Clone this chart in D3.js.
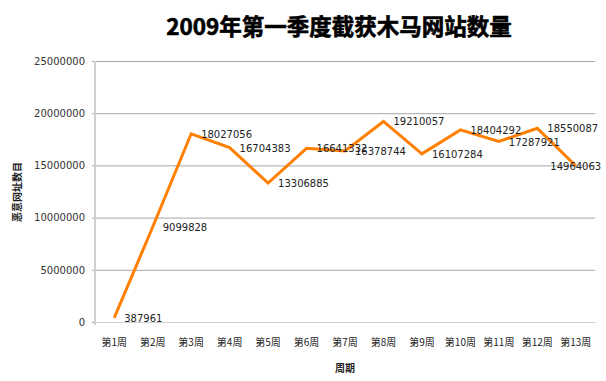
<!DOCTYPE html>
<html><head><meta charset="utf-8">
<script src="https://cdn.jsdelivr.net/npm/d3@7"></script>
<style>body{margin:0;background:#fff}</style>
</head><body>
<svg id="c" width="606" height="381"></svg>
<script>
const categories = ["第1周","第2周","第3周","第4周","第5周","第6周","第7周","第8周","第9周","第10周","第11周","第12周","第13周"];
const values = [387961,9099828,18027056,16704383,13306885,16641332,16378744,19210057,16107284,18404292,17287921,18550087,14964063];
const yTicks = [0,5000000,10000000,15000000,20000000,25000000];
const title = "2009年第一季度截获木马网站数量";
const xTitle = "周期";
const yTitle = "恶意网址数目";

const svg = d3.select("#c");
const L = 95, R = 595, T = 61, B = 322;
const x = d3.scaleBand().domain(categories).range([L, R]);
const y = d3.scaleLinear().domain([0, 25000000]).range([B, T]);
const font = "DejaVu Sans, Verdana, sans-serif";
const cjk = "'Noto Sans CJK SC', sans-serif";

// gridlines + y axis
const ya = svg.append("g").attr("transform", `translate(${L},0)`)
  .call(d3.axisLeft(y).tickValues(yTicks).tickSize(-(R - L)).tickPadding(10).tickFormat(d3.format("d")));
ya.select(".domain").remove();
ya.selectAll(".tick line").attr("stroke", "#a6a6a6").attr("x1", -3);
ya.selectAll(".tick text").attr("font-family", font).attr("font-size", 10).attr("fill", "#333");

svg.append("line").attr("x1", L).attr("x2", L).attr("y1", T).attr("y2", B + 3)
  .attr("stroke", "#d0d0d0").attr("stroke-width", 2);

const xa = svg.append("g").attr("transform", `translate(0,${B})`)
  .call(d3.axisBottom(x).tickSize(0).tickPadding(17));
xa.select(".domain").attr("stroke", "#d0d0d0").attr("stroke-width", 1);
xa.selectAll(".tick text").attr("font-family", cjk).attr("font-size", 10).attr("fill", "#222");

const cx = d => x(d) + x.bandwidth() / 2;
const line = d3.line().x((d, i) => cx(categories[i])).y(d => y(d));
svg.append("path").datum(values).attr("d", line).attr("fill", "none")
  .attr("stroke", "#ff8000").attr("stroke-width", 3).attr("stroke-linejoin", "miter");

const last = values.length - 1;
svg.append("g").selectAll("text").data(values).join("text")
  .attr("x", (d, i) => cx(categories[i]) + (i === last ? 0 : 10))
  .attr("y", d => y(d) + 4)
  .attr("text-anchor", (d, i) => i === last ? "middle" : "start")
  .attr("font-family", font).attr("font-size", 10).attr("fill", "#222")
  .text(d => d);

svg.append("text").attr("x", 339).attr("y", 35).attr("text-anchor", "middle")
  .attr("font-family", cjk).attr("font-weight", "bold").attr("font-size", 22.5).attr("fill", "#000")
  .attr("stroke", "#000").attr("stroke-width", 0.6).text(title);
svg.append("text").attr("x", 345).attr("y", 372).attr("text-anchor", "middle")
  .attr("font-family", cjk).attr("font-weight", "bold").attr("font-size", 10).attr("fill", "#222").text(xTitle);
svg.append("text").attr("transform", "translate(21,192) rotate(-90)").attr("text-anchor", "middle")
  .attr("font-family", cjk).attr("font-weight", "bold").attr("font-size", 10).attr("fill", "#222").text(yTitle);
</script>
</body></html>
